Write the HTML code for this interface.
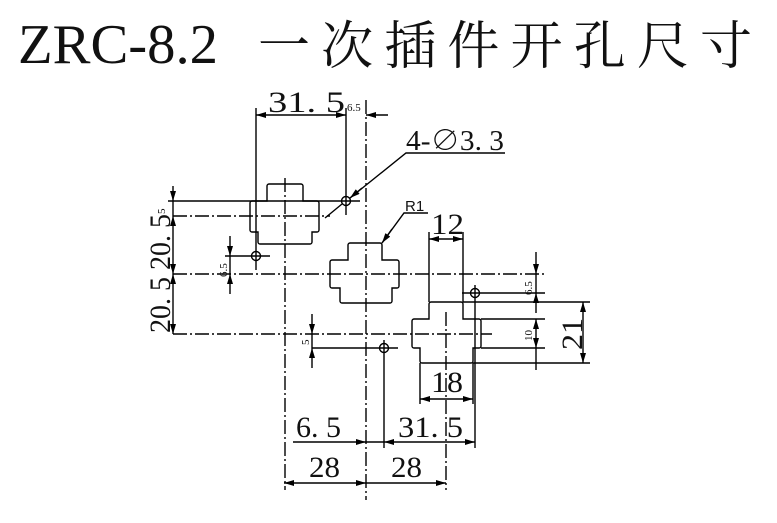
<!DOCTYPE html>
<html><head><meta charset="utf-8"><style>
html,body{margin:0;padding:0;background:#fff;}
svg{display:block;}
.t{font-family:"Liberation Serif","Noto Serif CJK SC",serif;fill:#111;}
</style></head><body>
<svg width="777" height="523" viewBox="0 0 777 523" xmlns="http://www.w3.org/2000/svg">
<defs>
<marker id="a" viewBox="0 0 10 6" refX="10" refY="3" markerWidth="11" markerHeight="6" orient="auto-start-reverse" markerUnits="userSpaceOnUse"><path d="M0,0 L10,3 L0,6 z" fill="#000"/></marker>
</defs>
<text x="18" y="63" class="t" font-size="56" textLength="200" lengthAdjust="spacingAndGlyphs">ZRC-8.2</text>
<text x="258" y="64" class="t" font-size="52" textLength="494" lengthAdjust="spacing">一次插件开孔尺寸</text>

<g stroke="#000" stroke-width="1.4" fill="none">
<g stroke-dasharray="14,3,2,3">
<line x1="366" y1="100" x2="366" y2="500"/>
<line x1="173" y1="274" x2="545" y2="274"/>
<line x1="173" y1="216" x2="330" y2="216"/>
<line x1="285" y1="178" x2="285" y2="490"/>
<line x1="173" y1="334" x2="492" y2="334"/>
<line x1="446" y1="312" x2="446" y2="490"/>
</g>
<path d="M267,201 V186 a2,2 0 0 1 2,-2 H301 a2,2 0 0 1 2,2 V201 H317 a2,2 0 0 1 2,2 V230 a2,2 0 0 1 -2,2 H312 V242 a2,2 0 0 1 -2,2 H260 a2,2 0 0 1 -2,-2 V232 H252 a2,2 0 0 1 -2,-2 V203 a2,2 0 0 1 2,-2 Z"/>
<path d="M348,260 V245 a2,2 0 0 1 2,-2 H380 a2,2 0 0 1 2,2 V260 H397 a2,2 0 0 1 2,2 V286 a2,2 0 0 1 -2,2 H392 V301 a2,2 0 0 1 -2,2 H342 a2,2 0 0 1 -2,-2 V288 H332 a2,2 0 0 1 -2,-2 V262 a2,2 0 0 1 2,-2 Z"/>
<path d="M429,319 V304 a2,2 0 0 1 2,-2 H461 a2,2 0 0 1 2,2 V319 H479 a2,2 0 0 1 2,2 V346 a2,2 0 0 1 -2,2 H473 V361 a2,2 0 0 1 -2,2 H422 a2,2 0 0 1 -2,-2 V348 H414 a2,2 0 0 1 -2,-2 V321 a2,2 0 0 1 2,-2 Z"/>
<circle cx="346" cy="201" r="4.5"/><circle cx="256" cy="256" r="4.5"/>
<circle cx="475" cy="293" r="4.5"/><circle cx="384" cy="348" r="4.5"/>
<line x1="256" y1="108" x2="256" y2="270"/>
<line x1="346" y1="108" x2="346" y2="215"/>
<line x1="168" y1="201" x2="360" y2="201"/>
<line x1="225" y1="256" x2="270" y2="256"/>
<line x1="462" y1="293" x2="545" y2="293"/>
<line x1="463" y1="302" x2="590" y2="302"/>
<line x1="481" y1="319" x2="545" y2="319"/>
<line x1="481" y1="348" x2="545" y2="348"/>
<line x1="473" y1="363" x2="590" y2="363"/>
<line x1="312" y1="348" x2="398" y2="348"/>
<line x1="384" y1="340" x2="384" y2="448"/>
<line x1="475" y1="285" x2="475" y2="448"/>
<line x1="429" y1="232" x2="429" y2="302"/>
<line x1="463" y1="232" x2="463" y2="302"/>
<line x1="420" y1="363" x2="420" y2="404"/>
<line x1="473" y1="363" x2="473" y2="404"/>
<line x1="256" y1="115" x2="346" y2="115" marker-start="url(#a)" marker-end="url(#a)"/>
<line x1="366" y1="115" x2="388" y2="115" marker-start="url(#a)"/>
<line x1="173" y1="186" x2="173" y2="201" marker-end="url(#a)"/>
<line x1="173" y1="216" x2="173" y2="274" marker-start="url(#a)" marker-end="url(#a)"/>
<line x1="173" y1="201" x2="173" y2="216"/>
<line x1="173" y1="274" x2="173" y2="334" marker-start="url(#a)" marker-end="url(#a)"/>
<line x1="230" y1="236" x2="230" y2="256" marker-end="url(#a)"/>
<line x1="230" y1="294" x2="230" y2="274" marker-end="url(#a)"/>
<line x1="230" y1="256" x2="230" y2="274"/>
<line x1="536" y1="252" x2="536" y2="274" marker-end="url(#a)"/>
<line x1="536" y1="313" x2="536" y2="293" marker-end="url(#a)"/>
<line x1="536" y1="274" x2="536" y2="293"/>
<line x1="536" y1="319" x2="536" y2="348" marker-start="url(#a)" marker-end="url(#a)"/>
<line x1="536" y1="348" x2="536" y2="370"/>
<line x1="583" y1="302" x2="583" y2="363" marker-start="url(#a)" marker-end="url(#a)"/>
<line x1="429" y1="239" x2="463" y2="239" marker-start="url(#a)" marker-end="url(#a)"/>
<line x1="312" y1="314" x2="312" y2="334" marker-end="url(#a)"/>
<line x1="312" y1="368" x2="312" y2="348" marker-end="url(#a)"/>
<line x1="312" y1="334" x2="312" y2="348"/>
<line x1="420" y1="399" x2="473" y2="399" marker-start="url(#a)" marker-end="url(#a)"/>
<line x1="293" y1="442" x2="366" y2="442" marker-end="url(#a)"/>
<line x1="384" y1="442" x2="475" y2="442" marker-start="url(#a)" marker-end="url(#a)"/>
<line x1="366" y1="442" x2="384" y2="442"/>
<line x1="284" y1="483" x2="366" y2="483" marker-start="url(#a)" marker-end="url(#a)"/>
<line x1="366" y1="483" x2="446" y2="483" marker-end="url(#a)"/>
<polyline points="505,153 406,153 350,198"/>
<line x1="342" y1="204" x2="325" y2="218"/>
<line x1="362" y1="188" x2="350" y2="198" marker-end="url(#a)"/>
<polyline points="428,213 404,213 382,243"/>
<line x1="392" y1="229" x2="382" y2="243" marker-end="url(#a)"/>
</g>

<g class="t">
<text x="268" y="112" font-size="30" textLength="77" lengthAdjust="spacingAndGlyphs">31. 5</text>
<text x="347" y="111" font-size="11">6.5</text>
<text x="406" y="150" font-size="28" textLength="98" lengthAdjust="spacingAndGlyphs">4-∅3. 3</text>
<text x="405" y="211" font-size="15" style="font-family:'Liberation Sans',sans-serif">R1</text>
<text x="431" y="234" font-size="30" textLength="33" lengthAdjust="spacingAndGlyphs">12</text>
<text x="431" y="392" font-size="30" textLength="32" lengthAdjust="spacingAndGlyphs">18</text>
<text x="296" y="437" font-size="30" textLength="45" lengthAdjust="spacingAndGlyphs">6. 5</text>
<text x="398" y="437" font-size="30" textLength="65" lengthAdjust="spacingAndGlyphs">31. 5</text>
<text x="309" y="477" font-size="30" textLength="31" lengthAdjust="spacingAndGlyphs">28</text>
<text x="391" y="477" font-size="30" textLength="31" lengthAdjust="spacingAndGlyphs">28</text>
<text transform="translate(165,214) rotate(-90)" font-size="11">5</text>
<text transform="translate(170,270) rotate(-90)" font-size="30" textLength="56" lengthAdjust="spacingAndGlyphs">20. 5</text>
<text transform="translate(170,333) rotate(-90)" font-size="30" textLength="56" lengthAdjust="spacingAndGlyphs">20. 5</text>
<text transform="translate(227,277) rotate(-90)" font-size="11">6.5</text>
<text transform="translate(532,295) rotate(-90)" font-size="11">6.5</text>
<text transform="translate(532,341) rotate(-90)" font-size="11">10</text>
<text transform="translate(582,350) rotate(-90)" font-size="30" textLength="32" lengthAdjust="spacingAndGlyphs">21</text>
<text transform="translate(309,345) rotate(-90)" font-size="11">5</text>
</g>
</svg>
</body></html>
